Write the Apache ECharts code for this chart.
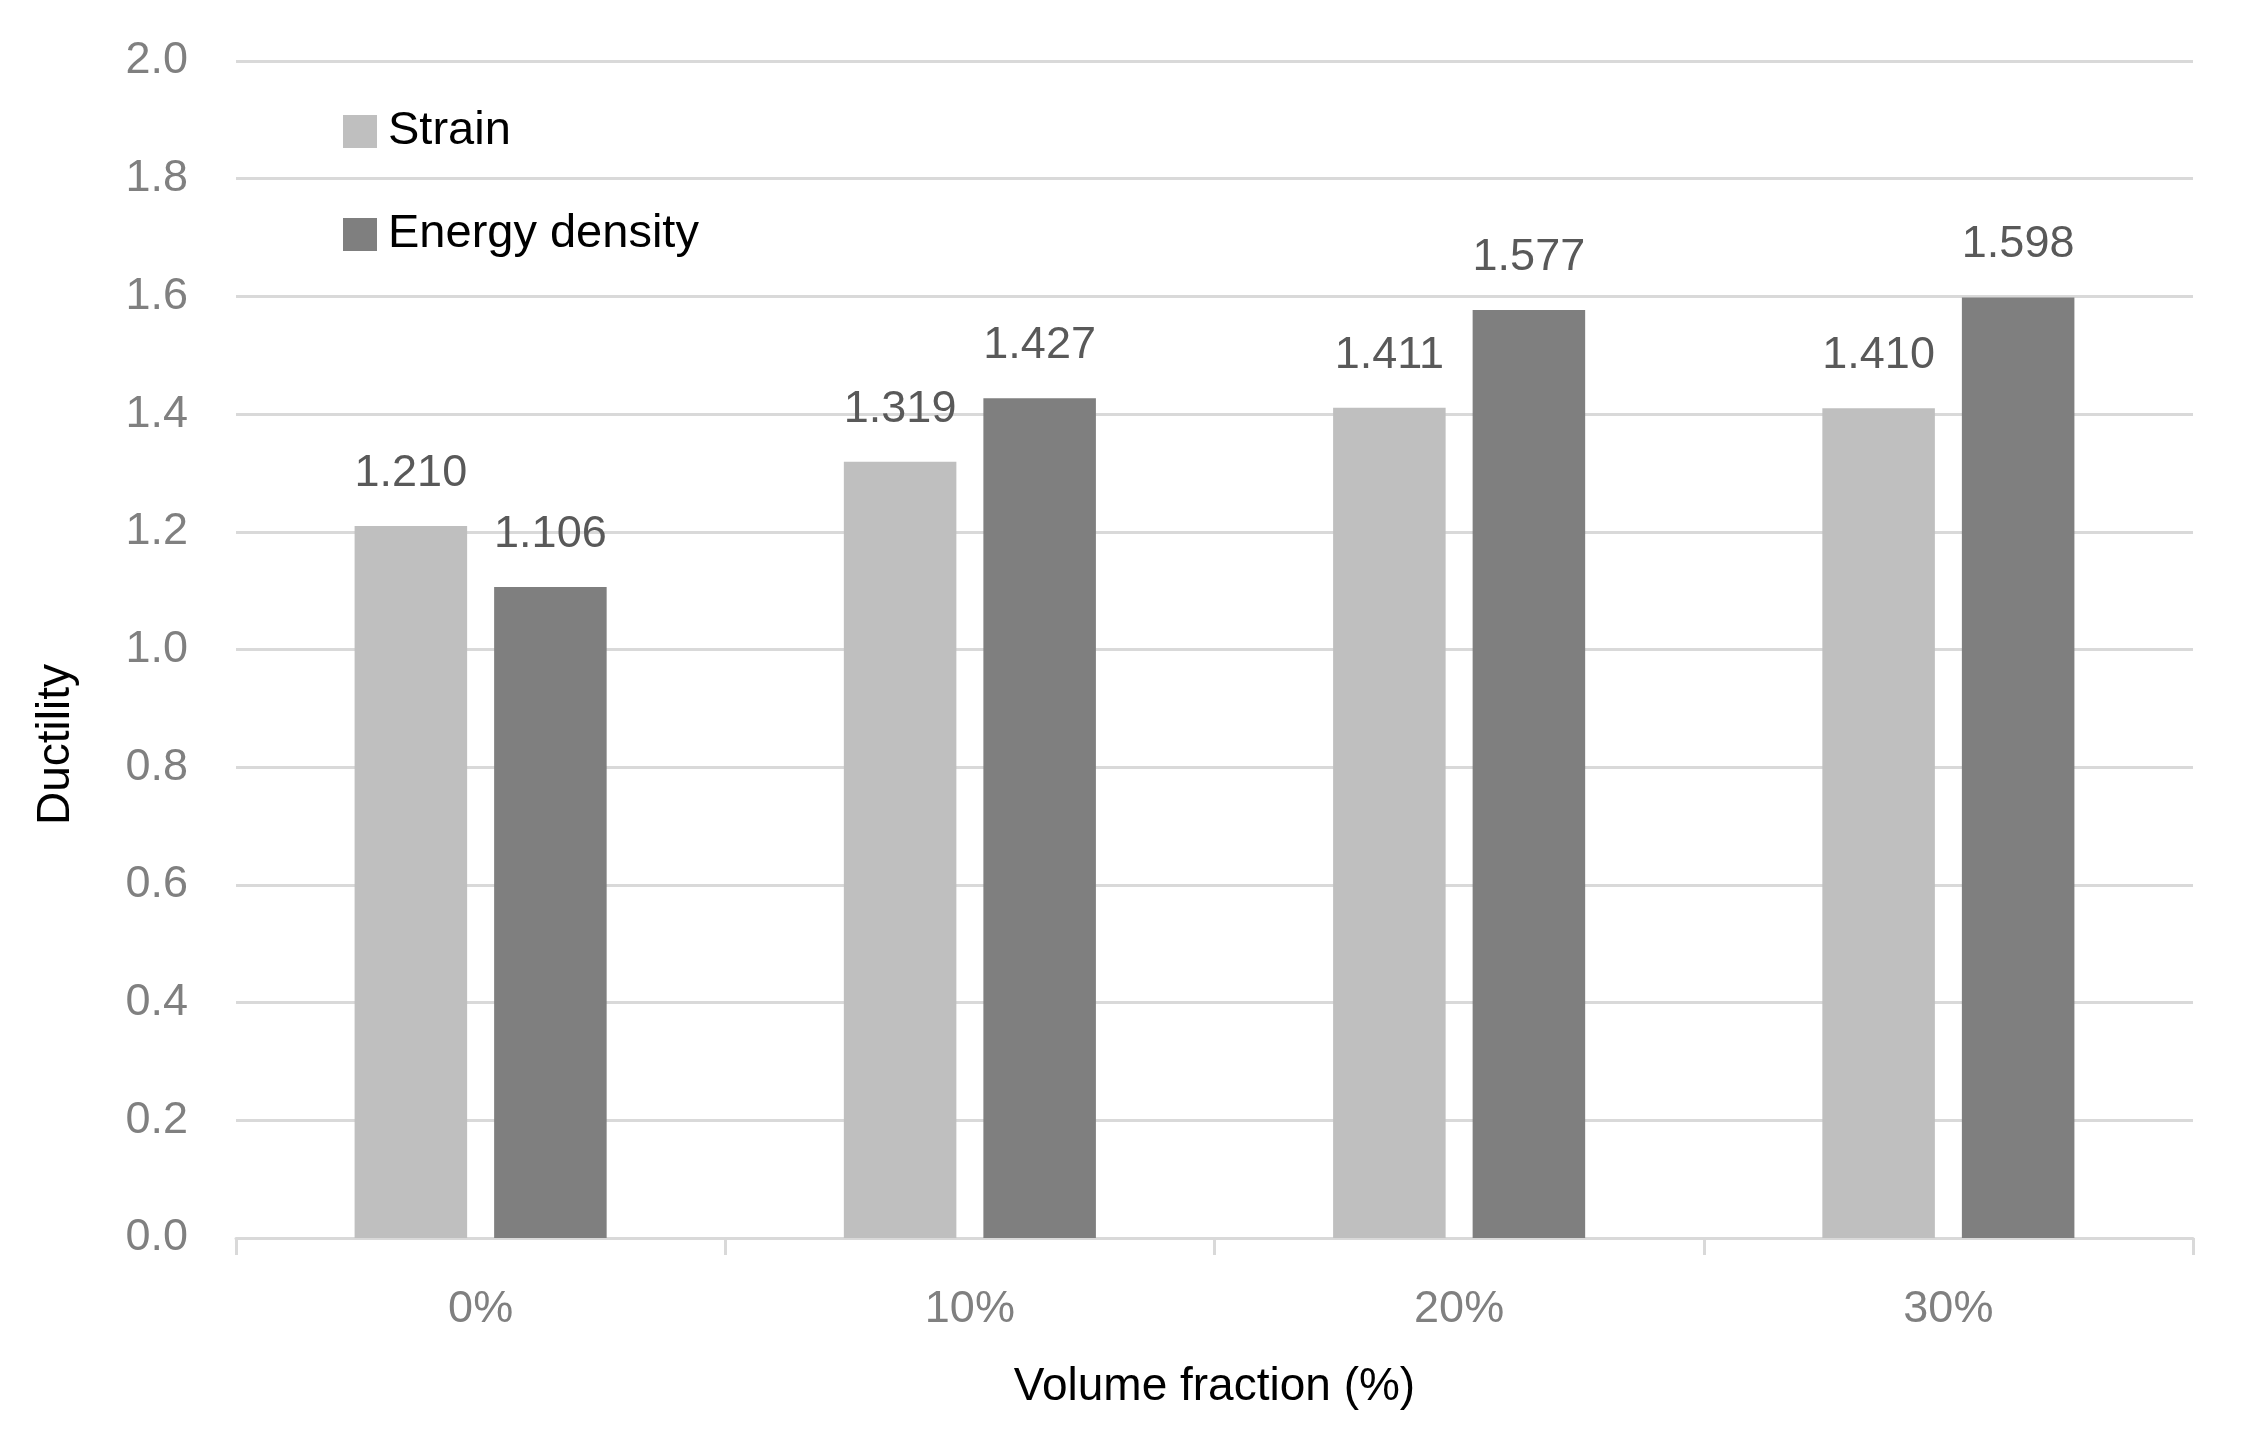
<!DOCTYPE html>
<html>
<head>
<meta charset="utf-8">
<script src="https://cdn.jsdelivr.net/npm/echarts@6/dist/echarts.min.js"></script>
<style>
html,body{margin:0;padding:0;background:#fff;}
#chart{width:2246px;height:1433px;}
</style>
</head>
<body>
<div id="chart"></div>
<script>
const categories = ['0%', '10%', '20%', '30%'];
const strainValues = [1.210, 1.319, 1.411, 1.410];
const energyValues = [1.106, 1.427, 1.577, 1.598];
const seriesNames = ['Strain', 'Energy density'];
const yMin = 0, yMax = 2.0, yStep = 0.2;

const FONT = 'Liberation Sans, Arial, sans-serif';
const chart = echarts.init(document.getElementById('chart'));
const valueLabel = {
  show: true, position: 'top', distance: 30,
  fontFamily: FONT, fontSize: 45, color: '#595959',
  formatter: p => p.value.toFixed(3)
};
chart.setOption({
  backgroundColor: '#ffffff',
  animation: false,
  grid: {left: 236, right: 53, top: 61, bottom: 195, containLabel: false},
  legend: {
    orient: 'vertical', left: 343, top: 104, padding: 0,
    itemWidth: 34, itemHeight: 33, itemGap: 48,
    icon: 'rect',
    textStyle: {fontFamily: FONT, fontSize: 47, lineHeight: 55, color: '#000000', padding: [0,0,0,6]},
    data: seriesNames
  },
  xAxis: {
    type: 'category', data: categories, boundaryGap: true,
    axisLine: {show: true, lineStyle: {color: '#d9d9d9', width: 3}},
    axisTick: {show: true, length: 17, lineStyle: {color: '#d9d9d9', width: 3}},
    axisLabel: {fontFamily: FONT, fontSize: 45, color: '#808080', margin: 49},
    name: 'Volume fraction (%)', nameLocation: 'middle', nameGap: 126,
    nameTextStyle: {fontFamily: FONT, fontSize: 46, color: '#000000'}
  },
  yAxis: {
    type: 'value', min: yMin, max: yMax, interval: yStep,
    axisLine: {show: false}, axisTick: {show: false},
    splitLine: {lineStyle: {color: '#d9d9d9', width: 3}},
    axisLabel: {fontFamily: FONT, fontSize: 45, color: '#808080', margin: 48,
      formatter: v => v.toFixed(1)},
    name: 'Ductility', nameLocation: 'middle', nameGap: 157,
    nameTextStyle: {fontFamily: FONT, fontSize: 46, color: '#000000', padding: [0, 190, 0, 0]}
  },
  series: [
    {name: seriesNames[0], type: 'bar', data: strainValues, barWidth: '23%', barGap: '24%',
      itemStyle: {color: '#bfbfbf'}, label: valueLabel},
    {name: seriesNames[1], type: 'bar', data: energyValues, barWidth: '23%', barGap: '24%',
      itemStyle: {color: '#7f7f7f'}, label: valueLabel}
  ]
});
</script>
</body>
</html>
